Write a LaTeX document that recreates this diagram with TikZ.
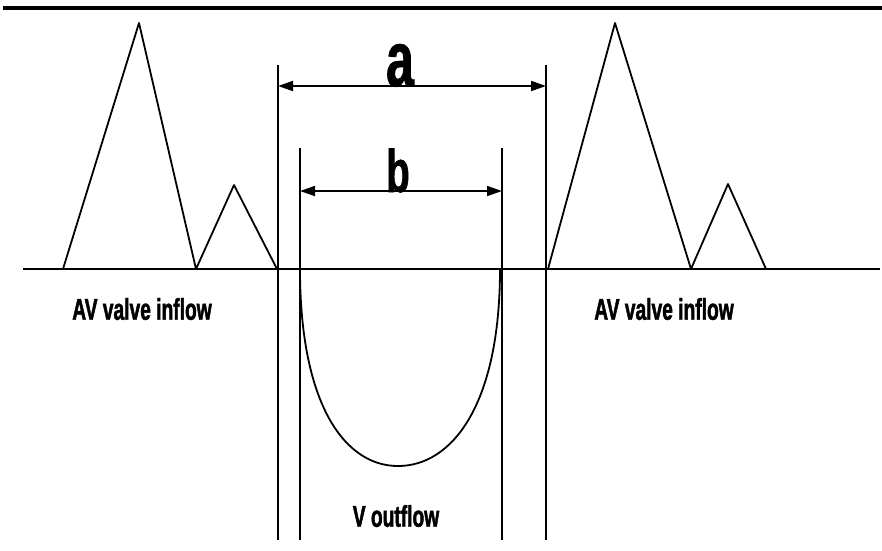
\documentclass[tikz,border=0pt]{standalone}
\usepackage{fontspec}
\setmainfont{Liberation Sans}
\newfontfamily\condfont[FakeStretch=0.64, FakeBold=1.5]{Liberation Sans Bold}
\newfontfamily\letterfont[FakeStretch=0.64, FakeBold=1]{Liberation Sans Bold}
\usetikzlibrary{arrows.meta}
\tikzset{
  ln/.style={line width=1.8pt, line join=round},
  dim/.style={line width=1.8pt, {Triangle[length=15pt,width=10pt]}-{Triangle[length=15pt,width=10pt]}},
  lbl/.style={font=\condfont\fontsize{30}{32}\selectfont, inner sep=0pt},
  big/.style={inner sep=0pt, anchor=base}
}
\begin{document}
\begin{tikzpicture}[x=1pt,y=-1pt]
\useasboundingbox (0,0) rectangle (882,550);
% top rule
\draw[line width=3.5pt] (3,8) -- (882,8);
% baseline
\draw[ln] (23,269) -- (880,269);
% left peaks
\draw[ln] (63,269) -- (139,23) -- (196,269) -- (234,185) -- (277,269);
% right peaks
\draw[ln] (548,269) -- (615,23) -- (691,269) -- (728,184) -- (766,269);
% vertical lines
\coordinate (aL) at (278,86);
\coordinate (aR) at (546,86);
\coordinate (bL) at (300,191);
\coordinate (bR) at (502,191);
\draw[ln] (278,65) -- (278,540);
\draw[ln] (546,65) -- (546,540);
\draw[ln] (300,148) -- (300,540);
\draw[ln] (502,148) -- (502,540);
% dimension arrows
\draw[dim] (aL) -- (aR);
\draw[dim] (bL) -- (bR);
\node[big, font=\letterfont\fontsize{78}{80}\selectfont] (la) at (400,86) {a};
\node[big, font=\letterfont\fontsize{60}{62}\selectfont] (lb) at (398,192) {b};
% outflow curve
\draw[ln] (300,269) .. controls (300,405) and (345,466) .. (398,466)
          .. controls (452,466) and (500,405) .. (500,269);
% labels
\node[lbl] (inL) at (142,309) {AV valve inflow};
\node[lbl] (inR) at (664,309) {AV valve inflow};
\node[lbl] (out) at (396,516) {V outflow};
\end{tikzpicture}
\end{document}
